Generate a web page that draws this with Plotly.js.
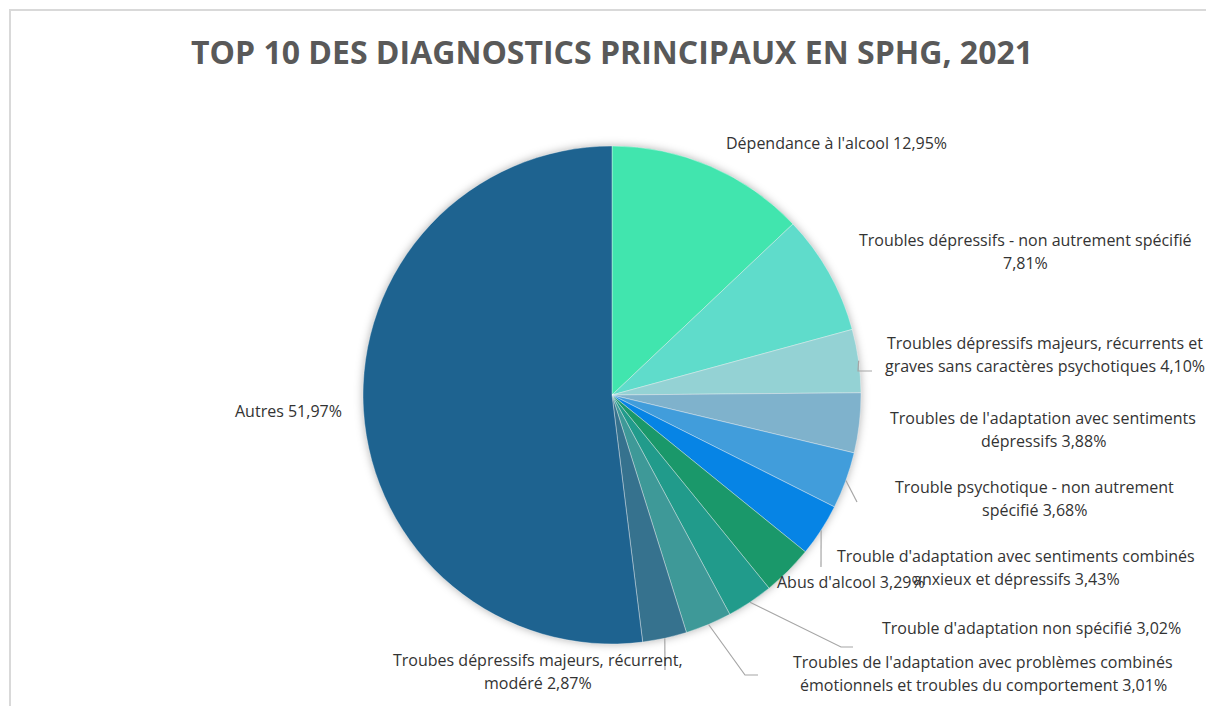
<!DOCTYPE html>
<html>
<head>
<meta charset="utf-8">
<script src="https://cdn.plot.ly/plotly-3.0.1.min.js"></script>
<style>
  html, body { margin: 0; padding: 0; background: #ffffff; }
  #wrap { position: relative; width: 1206px; height: 706px; overflow: hidden; }
  #frame { position: absolute; left: 9px; top: 9px; width: 1300px; height: 800px;
           border-left: 2px solid #d9d9d9; border-top: 2px solid #d9d9d9; pointer-events: none; }
  #chart { position: absolute; left: 0; top: 0; width: 1206px; height: 706px; }
  .pielayer .trace { filter: drop-shadow(0px 0px 4px rgba(0,0,0,0.30)); }
</style>
</head>
<body>
<div id="wrap">
  <div id="frame"></div>
  <div id="chart"></div>
</div>
<script>
// ---- data ----
const categories = [
  "Dépendance à l'alcool",
  "Troubles dépressifs - non autrement spécifié",
  "Troubles dépressifs majeurs, récurrents et graves sans caractères psychotiques",
  "Troubles de l'adaptation avec sentiments dépressifs",
  "Trouble psychotique - non autrement spécifié",
  "Trouble d'adaptation avec sentiments combinés anxieux et dépressifs",
  "Abus d'alcool",
  "Trouble d'adaptation non spécifié",
  "Troubles de l'adaptation avec problèmes combinés émotionnels et troubles du comportement",
  "Troubes dépressifs majeurs, récurrent, modéré",
  "Autres"
];
const values = [12.95, 7.81, 4.10, 3.88, 3.68, 3.43, 3.29, 3.02, 3.01, 2.87, 51.97];
const colors = ["#41e5ae", "#5fdccb", "#94d2d4", "#7fb2cc", "#419ddb", "#0684e5",
                "#1a986a", "#219b8b", "#3e9998", "#36728e", "#1e6390"];
// label text split into display lines (the value is appended to the last line)
const labelLines = [
  ["Dépendance à l'alcool"],
  ["Troubles dépressifs - non autrement spécifié", ""],
  ["Troubles dépressifs majeurs, récurrents et", "graves sans caractères psychotiques"],
  ["Troubles de l'adaptation avec sentiments", "dépressifs"],
  ["Trouble psychotique - non autrement", "spécifié"],
  ["Trouble d'adaptation avec sentiments combinés", "anxieux et dépressifs"],
  ["Abus d'alcool"],
  ["Trouble d'adaptation non spécifié"],
  ["Troubles de l'adaptation avec problèmes combinés", "émotionnels et troubles du comportement"],
  ["Troubes dépressifs majeurs, récurrent,", "modéré"],
  ["Autres"]
];

// ---- layout geometry (pixels) ----
const W = 1206, H = 706;
const CX = 612, CY = 395, R = 249;
// centre of each label block (x, y of first line)
const labelPos = [
  [836, 143], [1025, 240], [1045, 343], [1043, 418], [1034, 487],
  [1016, 556], [851, 582], [1031, 628], [983, 662], [538, 660], [288, 411]
];
const LINE_H = 22.5;
// leader-line elbow points after the slice-edge start (null = no leader)
const leaders = [
  null, null,
  [[858, 371], [872, 371]],
  null,
  [[857, 502]],
  [[821, 567]],
  null,
  [[841, 647], [853, 647]],
  [[745, 675], [758, 675]],
  [[665, 670]],
  null
];

const px = x => x / W;
const py = y => 1 - y / H;
const fmt = v => v.toFixed(2).replace('.', ',') + '%';

const total = values.reduce((a, b) => a + b, 0);
const annotations = [];
const shapes = [];
let cum = 0;
values.forEach((v, i) => {
  const mid = (cum + v / 2) / total * 2 * Math.PI;
  cum += v;
  const lines = labelLines[i].slice();
  const last = lines.length - 1;
  lines[last] = (lines[last] ? lines[last] + ' ' : '') + fmt(v);
  lines.forEach((t, k) => {
    annotations.push({
      text: t, showarrow: false, xref: 'paper', yref: 'paper',
      x: px(labelPos[i][0]), y: py(labelPos[i][1] + k * LINE_H),
      xanchor: 'center', yanchor: 'middle',
      font: { family: 'Open Sans', size: 16, color: '#333333' }
    });
  });
  if (leaders[i]) {
    const sx = CX + R * Math.sin(mid), sy = CY - R * Math.cos(mid);
    let path = `M${px(sx)},${py(sy)}`;
    leaders[i].forEach(p => { path += ` L${px(p[0])},${py(p[1])}`; });
    shapes.push({ type: 'path', xref: 'paper', yref: 'paper', path: path,
                  line: { color: '#a6a6a6', width: 1.2 } });
  }
});

const trace = {
  type: 'pie',
  labels: categories,
  values: values,
  sort: false,
  direction: 'clockwise',
  rotation: 0,
  textinfo: 'none',
  hoverinfo: 'label+percent',
  marker: { colors: colors, line: { color: 'rgba(255,255,255,0.6)', width: 0.6 } },
  domain: { x: [px(CX - R), px(CX + R)], y: [py(CY + R), py(CY - R)] },
  showlegend: false
};

const layout = {
  width: W, height: H,
  margin: { l: 0, r: 0, t: 0, b: 0 },
  paper_bgcolor: 'rgba(0,0,0,0)',
  plot_bgcolor: 'rgba(0,0,0,0)',
  title: {
    text: 'TOP 10 DES DIAGNOSTICS PRINCIPAUX EN SPHG, 2021',
    x: px(612), xanchor: 'center', xref: 'container',
    y: 1 - 53 / H, yanchor: 'middle', yref: 'container',
    font: { family: 'Open Sans', size: 32, weight: 700, color: '#595959' }
  },
  annotations: annotations,
  shapes: shapes,
  showlegend: false
};

Plotly.newPlot('chart', [trace], layout, { displayModeBar: false, staticPlot: true });
</script>
</body>
</html>
